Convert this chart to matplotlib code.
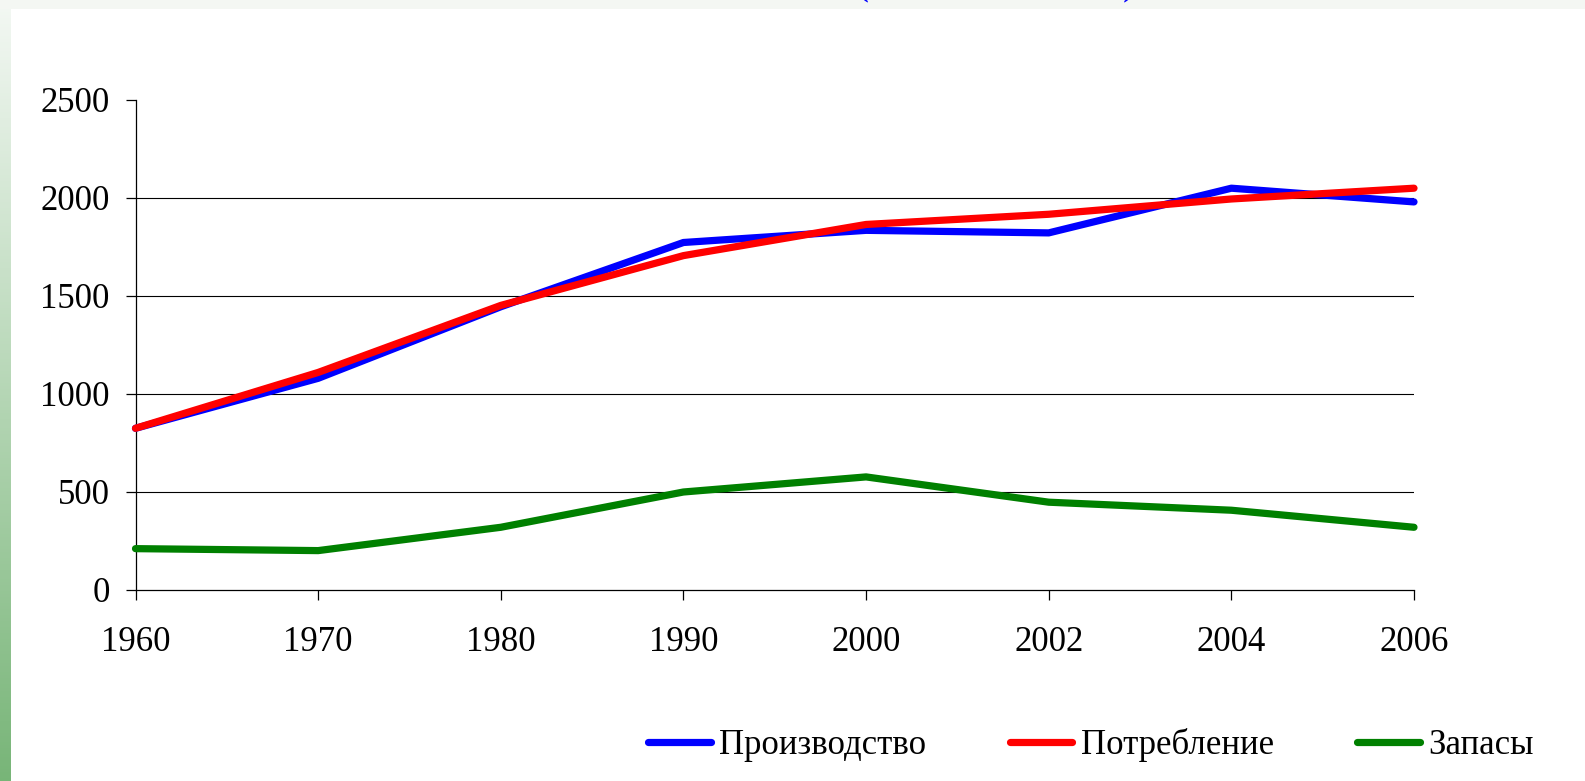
import matplotlib
matplotlib.use("Agg")
import matplotlib.pyplot as plt
import numpy as np
from matplotlib.patches import Rectangle

years = ["1960", "1970", "1980", "1990", "2000", "2002", "2004", "2006"]
production = [825, 1080, 1445, 1773, 1835, 1822, 2050, 1980]
consumption = [825, 1110, 1452, 1706, 1865, 1917, 1995, 2050]
stocks = [211, 201, 320, 500, 577, 448, 407, 320]
series_names = ["Производство", "Потребление", "Запасы"]
series_colors = ["#0000ff", "#ff0000", "#008000"]
y_ticks = [0, 500, 1000, 1500, 2000, 2500]

W, H = 1585, 781
FS = 25
plt.rcParams["font.family"] = ["Liberation Serif", "DejaVu Serif"]
fig = plt.figure(figsize=(W / 100, H / 100), dpi=100)
fig.patch.set_facecolor("white")

# decorative slide background: top strip and left gradient strip
fig.patches.append(Rectangle((0, (H - 9) / H), 1, 9 / H, transform=fig.transFigure,
                             facecolor="#f4f7f3", edgecolor="none", zorder=0))
gax = fig.add_axes([0, 0, 11 / W, (H - 9) / H])
top_c = np.array([0.95, 0.97, 0.95])
bot_c = np.array([0.47, 0.71, 0.47])
t = np.linspace(0, 1, 256)[:, None]
grad = top_c[None, :] * (1 - t) + bot_c[None, :] * t
gax.imshow(grad[:, None, :], aspect="auto", extent=[0, 1, 0, 1])
gax.axis("off")
fig.patches.append(Rectangle((0, (H - 9) / H), 11 / W, 9 / H, transform=fig.transFigure,
                             facecolor="#f4f7f3", edgecolor="none", zorder=1))

# cropped title (only the bottoms of the parentheses remain visible)
fig.text(862 / W, (H + 6) / H, "(", color="#0000ff", fontsize=28, ha="center", va="baseline")
fig.text(1129 / W, (H + 6) / H, ")", color="#0000ff", fontsize=28, ha="center", va="baseline")

left, right, top, bottom = 135.5, 1414, 100, 590
ax = fig.add_axes([left / W, (H - bottom) / H, (right - left) / W, (bottom - top) / H])
x = np.arange(len(years))
for vals, name, col in zip([production, consumption, stocks], series_names, series_colors):
    ax.plot(x, vals, color=col, lw=5.2, label=name, solid_capstyle="round",
            solid_joinstyle="round", clip_on=False, zorder=3)

ax.set_xlim(0, len(years) - 1)
ax.set_ylim(0, 2500)
ax.set_xticks(x)
ax.set_xticklabels(years)
ax.set_yticks(y_ticks)
ax.set_yticklabels([str(v) for v in y_ticks])
for v in y_ticks[1:-1]:
    ax.axhline(v, color="black", lw=0.8, zorder=1)
for s in ["top", "right"]:
    ax.spines[s].set_visible(False)
for s in ["left", "bottom"]:
    ax.spines[s].set_color("black")
    ax.spines[s].set_linewidth(0.9)
ax.tick_params(axis="y", direction="out", length=7.5, width=0.9, pad=11, labelsize=FS)
ax.tick_params(axis="x", direction="out", length=7, width=0.9, pad=19, labelsize=FS)

fig.legend(loc="center left", bbox_to_anchor=(648 / W, (H - 745) / H), ncol=3,
           frameon=False, fontsize=FS, handlelength=1.8, handletextpad=0.25,
           columnspacing=2.4, borderpad=0, borderaxespad=0)

fig.savefig("out.png", dpi=100)
